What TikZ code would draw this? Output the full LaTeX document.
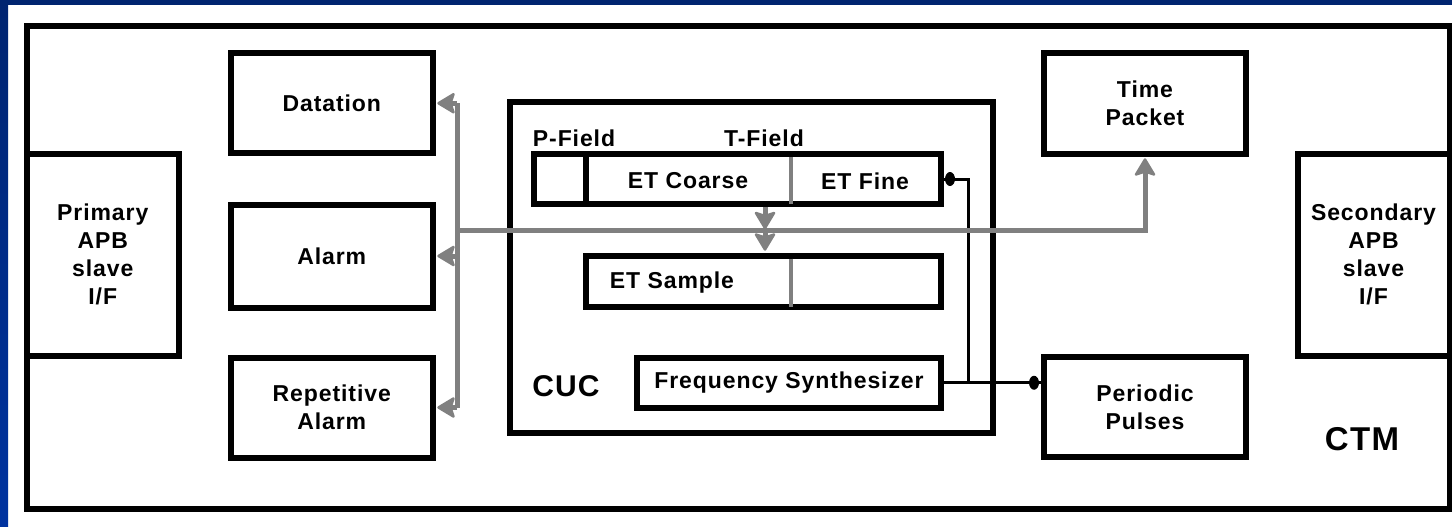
\documentclass[tikz,border=0pt]{standalone}
\usepackage{fontspec}
\setmainfont{Liberation Sans}[LetterSpace=4]
\usetikzlibrary{arrows.meta,calc}
\definecolor{navy}{RGB}{0,36,112}
\definecolor{edgeblue}{RGB}{0,51,160}
\definecolor{busgray}{RGB}{128,128,128}
\tikzset{
  blk/.style={draw=black, line width=6pt, fill=none, inner sep=0pt, align=center,
     font=\fontsize{23}{28}\selectfont\bfseries},
  lbl/.style={inner sep=0pt, font=\fontsize{23}{28}\selectfont\bfseries},
  biglbl/.style={inner sep=0pt, font=\fontsize{33}{38}\selectfont\bfseries},
  bus/.style={draw=busgray, line width=5pt},
  busarrow/.style={draw=busgray, line width=5pt, shorten >=10pt},
  headfill/.style={fill=busgray, draw=busgray, line width=2.5pt, line join=round},
  divgray/.style={draw=busgray, line width=4pt},
  wire/.style={draw=black, line width=3pt}
}
\begin{document}
\begin{tikzpicture}[x=1pt,y=-1pt]
\useasboundingbox (0,0) rectangle (1452,527);
\fill[white] (0,0) rectangle (1452,527);
\shade[top color=navy, bottom color=edgeblue] (0,0) rectangle (8,527);
\fill[navy] (0,0) rectangle (1452,5);

% outer CTM
\node[blk, minimum width=1423pt, minimum height=482pt] (ctm) at (738,267.5) {};
\node[biglbl] (ctmlbl) at (1362,439) {CTM};

% side interfaces
\node[blk, minimum width=152.5pt, minimum height=202.5pt] (prim) at (102.75,254.75) {Primary\\APB\\slave\\I/F};
\node[blk, minimum width=152pt, minimum height=202.5pt] (sec) at (1373.5,254.75) {Secondary\\APB\\slave\\I/F};

% left blocks
\node[blk, minimum width=201.5pt, minimum height=99.5pt] (dat) at (331.75,103.25) {Datation};
\node[blk, minimum width=201.5pt, minimum height=103pt] (alarm) at (331.75,256) {Alarm};
\node[blk, minimum width=201.5pt, minimum height=100pt] (rep) at (331.75,407.5) {Repetitive\\Alarm};

% right blocks
\node[blk, minimum width=202pt, minimum height=100.5pt] (tp) at (1145,103.25) {Time\\Packet};
\node[blk, minimum width=202pt, minimum height=100pt] (pp) at (1145,407) {Periodic\\Pulses};

% CUC
\node[blk, minimum width=483pt, minimum height=331pt] (cuc) at (751.5,267.5) {};
\node[biglbl, font=\fontsize{30}{36}\selectfont\bfseries] (cuclbl) at (566,386) {CUC};

\node[blk, minimum width=407pt, minimum height=50pt] (reg) at (737.5,179) {};
\draw[black, line width=6pt] (585.5,154) -- (585.5,204);
\draw[divgray] (791,157) -- (791,204);
\node[lbl] (pf) at (574,138) {P-Field};
\node[lbl] (tf) at (764,138) {T-Field};
\node[lbl] (etc) at (688,181) {ET Coarse};
\node[lbl] (etf) at (865,181) {ET Fine};

\node[blk, minimum width=355.5pt, minimum height=51.5pt] (samp) at (763.25,281.25) {};
\draw[divgray] (791,258.5) -- (791,307);
\node[lbl] (ets) at (672,283) {ET Sample};

\node[blk, minimum width=304pt, minimum height=50.5pt] (fs) at (789,382.75) {Frequency Synthesizer};

% black wires
\coordinate (br) at (968,382.75);
\coordinate (ppin) at (fs.east -| pp.west);
\draw[wire] (fs.east) -- (ppin);
\draw[wire] (br) -- (br |- reg.east) -- (reg.east);
\fill[black] ($(ppin)+(-7,0)$) ellipse [x radius=5pt, y radius=7pt];
\fill[black] ($(reg.east)+(6,0)$) ellipse [x radius=5pt, y radius=7pt];

% gray bus
\coordinate (bt) at (457,103.25);
\coordinate (bb) at (457,407.5);
\coordinate (bm) at (457,230);
\coordinate (etx) at (765,230);
\coordinate (etin) at (etx |- samp.north);
\draw[bus] (bt) -- (bb);
\draw[busarrow] (bt) -- (dat.east);
\draw[busarrow] (bm |- alarm.east) -- (alarm.east);
\draw[busarrow] (bb) -- (rep.east);
\draw[bus] (bm) -- (bm -| tp.south) -- ($(tp.south)+(0,12)$);
\draw[busarrow] (etx |- reg.south) -- (etx);
\draw[busarrow] (etx) -- (etin);
% arrow heads
\foreach \p in {dat.east, alarm.east, rep.east}
  \filldraw[headfill] ($(\p)+(3,0)$) -- ++(15,-9) -- ++(-3,9) -- ++(3,9) -- cycle;
\filldraw[headfill] ($(tp.south)+(0,3)$) -- ++(-9,15) -- ++(9,-3) -- ++(9,3) -- cycle;
\filldraw[headfill] ($(etx)+(0,-2)$) -- ++(-9,-15) -- ++(9,3) -- ++(9,-3) -- cycle;
\filldraw[headfill] ($(etin)+(0,-3)$) -- ++(-9,-15) -- ++(9,3) -- ++(9,-3) -- cycle;
\end{tikzpicture}
\end{document}
